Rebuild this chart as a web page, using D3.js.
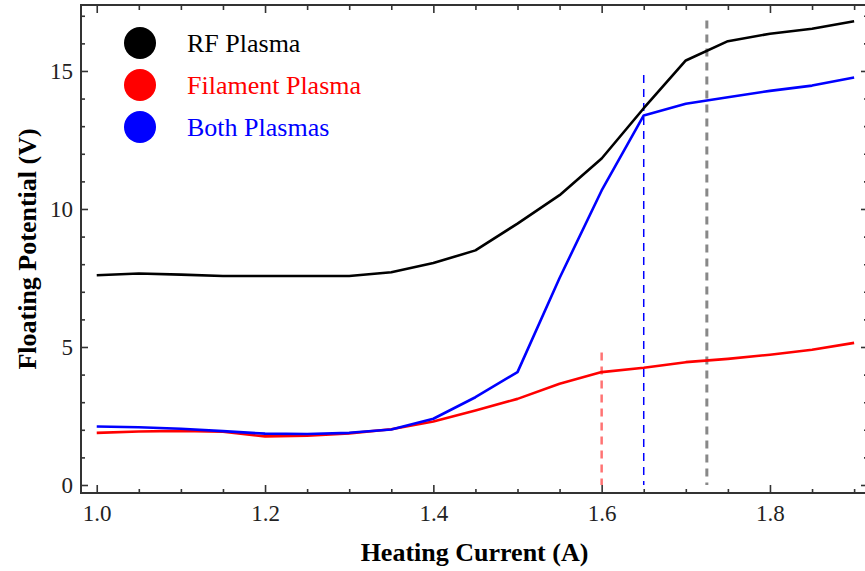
<!DOCTYPE html>
<html>
<head>
<meta charset="utf-8">
<script src="https://cdn.jsdelivr.net/npm/d3@7"></script>
<style>
  html, body { margin: 0; padding: 0; background: #fff; }
  svg { display: block; }
</style>
</head>
<body>
<svg id="chart" width="865" height="571"></svg>
<script>
// Heating current (A) at which each floating potential was measured
const current = [1.0, 1.05, 1.1, 1.15, 1.2, 1.25, 1.3, 1.35, 1.4, 1.45, 1.5,
                 1.55, 1.6, 1.65, 1.7, 1.75, 1.8, 1.85, 1.9];

// Floating potential (V) for each discharge type
const rfPlasma = [7.6, 7.66, 7.62, 7.57, 7.57, 7.57, 7.57, 7.71, 8.04, 8.5, 9.47,
                  10.5, 11.83, 13.65, 15.38, 16.08, 16.35, 16.53, 16.8];
const filamentPlasma = [1.89, 1.94, 1.96, 1.93, 1.76, 1.79, 1.87, 2.02, 2.3, 2.7, 3.12,
                        3.67, 4.09, 4.25, 4.45, 4.57, 4.72, 4.9, 5.15];
const bothPlasmas = [2.12, 2.09, 2.04, 1.95, 1.86, 1.85, 1.89, 2.01, 2.4, 3.18, 4.09,
                     7.5, 10.67, 13.39, 13.81, 14.05, 14.28, 14.47, 14.76];

const seriesNames = ["RF Plasma", "Filament Plasma", "Both Plasmas"];
const seriesColors = ["#000000", "#ff0000", "#0000ff"];

// Vertical dashed markers: current, top of the marker (V), colour, width
const markerCurrent = [1.6, 1.65, 1.725];
const markerTop = [4.8, 14.85, 16.83];
const markerColors = ["rgba(255,0,0,0.55)", "#0000ff", "#888888"];
const markerWidths = [2.5, 1.5, 3];

// Tick values
const xMajor = [1.0, 1.2, 1.4, 1.6, 1.8];
const xMinor = [1.05, 1.1, 1.15, 1.25, 1.3, 1.35, 1.45, 1.5, 1.55, 1.65, 1.7, 1.75, 1.85, 1.9];
const yMajor = [0, 5, 10, 15];
const yMinor = [1, 2, 3, 4, 6, 7, 8, 9, 11, 12, 13, 14, 16, 17];

const SERIF = '"Liberation Serif", "Times New Roman", serif';

const svg = d3.select("#chart");

// Plot frame (right edge sits just past the window)
const frame = { left: 81, right: 868, top: 5, bottom: 493 };

const x = d3.scaleLinear().domain([0.9813, 1.9165]).range([frame.left, frame.right]);
const y = d3.scaleLinear().domain([-0.29, 17.39]).range([frame.bottom, frame.top]);

// Data lines
const series = [rfPlasma, filamentPlasma, bothPlasmas];
const line = d3.line().x((d, i) => x(current[i])).y(d => y(d));

// Dashed markers
const markers = svg.append("g");
markerCurrent.forEach((c, i) => {
  markers.append("line")
    .attr("x1", x(c)).attr("x2", x(c))
    .attr("y1", y(markerTop[i])).attr("y2", y(0))
    .attr("stroke", markerColors[i])
    .attr("stroke-width", markerWidths[i])
    .attr("stroke-dasharray", "8,6");
});

// Draw filament first, then RF, then both (blue on top)
[1, 0, 2].forEach(k => {
  svg.append("path")
    .datum(series[k])
    .attr("d", line)
    .attr("fill", "none")
    .attr("stroke", seriesColors[k])
    .attr("stroke-width", 2.6)
    .attr("stroke-linejoin", "round");
});

// Frame
svg.append("rect")
  .attr("x", frame.left).attr("y", frame.top)
  .attr("width", frame.right - frame.left)
  .attr("height", frame.bottom - frame.top)
  .attr("fill", "none")
  .attr("stroke", "#333")
  .attr("stroke-width", 2);

function styleAxis(g) {
  g.select(".domain").remove();
  g.selectAll(".tick line").attr("stroke", "#333").attr("stroke-width", 1.6);
}
function styleLabels(g) {
  g.selectAll("text")
    .style("font-family", SERIF)
    .style("font-size", "23px")
    .attr("fill", "#222");
}

// Bottom axis: major with labels, minor without
svg.append("g")
  .attr("transform", `translate(0,${frame.bottom})`)
  .call(d3.axisBottom(x).tickValues(xMajor).tickSizeInner(-8).tickSizeOuter(0)
        .tickPadding(12).tickFormat(d3.format(".1f")))
  .call(styleAxis)
  .call(styleLabels);
svg.append("g")
  .attr("transform", `translate(0,${frame.bottom})`)
  .call(d3.axisBottom(x).tickValues(xMinor).tickSizeInner(-4).tickSizeOuter(0).tickFormat(""))
  .call(styleAxis);

// Top axis
svg.append("g")
  .attr("transform", `translate(0,${frame.top})`)
  .call(d3.axisTop(x).tickValues(xMajor).tickSizeInner(-8).tickSizeOuter(0).tickFormat(""))
  .call(styleAxis);
svg.append("g")
  .attr("transform", `translate(0,${frame.top})`)
  .call(d3.axisTop(x).tickValues(xMinor).tickSizeInner(-5).tickSizeOuter(0).tickFormat(""))
  .call(styleAxis);

// Left axis
svg.append("g")
  .attr("transform", `translate(${frame.left},0)`)
  .call(d3.axisLeft(y).tickValues(yMajor).tickSizeInner(-7).tickSizeOuter(0)
        .tickPadding(8).tickFormat(d3.format("d")))
  .call(styleAxis)
  .call(styleLabels);
svg.append("g")
  .attr("transform", `translate(${frame.left},0)`)
  .call(d3.axisLeft(y).tickValues(yMinor).tickSizeInner(-4).tickSizeOuter(0).tickFormat(""))
  .call(styleAxis);

// Right axis
svg.append("g")
  .attr("transform", `translate(${frame.right},0)`)
  .call(d3.axisRight(y).tickValues(yMajor).tickSizeInner(-7).tickSizeOuter(0).tickFormat(""))
  .call(styleAxis);
svg.append("g")
  .attr("transform", `translate(${frame.right},0)`)
  .call(d3.axisRight(y).tickValues(yMinor).tickSizeInner(-4).tickSizeOuter(0).tickFormat(""))
  .call(styleAxis);

// Axis titles
svg.append("text")
  .attr("x", (frame.left + frame.right) / 2)
  .attr("y", 561)
  .attr("text-anchor", "middle")
  .style("font-family", SERIF)
  .style("font-size", "26px")
  .style("font-weight", "bold")
  .attr("fill", "#000")
  .text("Heating Current (A)");

svg.append("text")
  .attr("transform", `translate(36,${(frame.top + frame.bottom) / 2}) rotate(-90)`)
  .attr("text-anchor", "middle")
  .style("font-family", SERIF)
  .style("font-size", "26px")
  .style("font-weight", "bold")
  .attr("fill", "#000")
  .text("Floating Potential (V)");

// Legend
const legend = svg.append("g");
seriesNames.forEach((name, i) => {
  const cy = 43 + i * 42;
  legend.append("circle")
    .attr("cx", 140).attr("cy", cy).attr("r", 16)
    .attr("fill", seriesColors[i]);
  legend.append("text")
    .attr("x", 187).attr("y", cy + 9)
    .style("font-family", SERIF)
    .style("font-size", "26px")
    .attr("fill", seriesColors[i])
    .text(name);
});
</script>
</body>
</html>
